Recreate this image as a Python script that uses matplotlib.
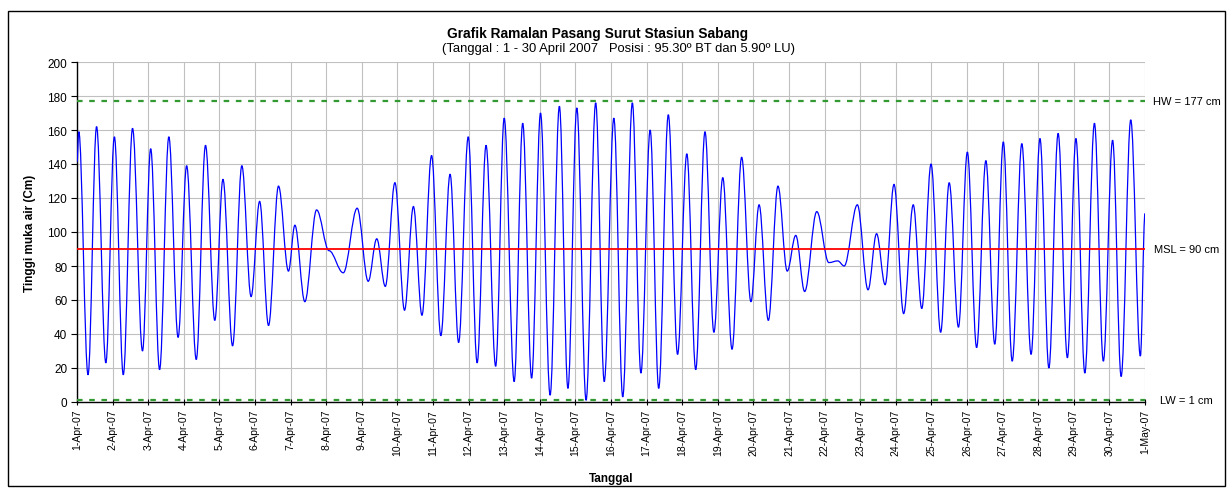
import matplotlib
matplotlib.use('Agg')
import matplotlib.pyplot as plt
from matplotlib.path import Path
from matplotlib.patches import PathPatch, Rectangle

plt.rcParams['font.family'] = ['Liberation Sans', 'DejaVu Sans']

# high / low waters: days after 1-Apr-07 00:00, height in cm
t_ext = [0.0, 0.05, 0.31, 0.55, 0.81, 1.05, 1.30, 1.56, 1.84, 2.07,
         2.32, 2.58, 2.84, 3.08, 3.35, 3.61, 3.87, 4.10, 4.37, 4.63,
         4.89, 5.13, 5.38, 5.66, 5.94, 6.12, 6.40, 6.73, 7.08, 7.48,
         7.87, 8.18, 8.42, 8.66, 8.93, 9.20, 9.45, 9.69, 9.96, 10.22,
         10.48, 10.72, 10.99, 11.24, 11.49, 11.76, 12.00, 12.28, 12.52, 12.77,
         13.02, 13.29, 13.55, 13.79, 14.04, 14.30, 14.57, 14.81, 15.08, 15.33,
         15.60, 15.84, 16.10, 16.34, 16.61, 16.87, 17.13, 17.38, 17.64, 17.89,
         18.14, 18.40, 18.67, 18.93, 19.16, 19.42, 19.69, 19.95, 20.19, 20.44,
         20.78, 21.12, 21.37, 21.55, 21.92, 22.22, 22.46, 22.70, 22.95, 23.22,
         23.49, 23.73, 23.99, 24.26, 24.50, 24.76, 25.01, 25.27, 25.53, 25.78,
         26.02, 26.27, 26.54, 26.80, 27.05, 27.30, 27.56, 27.82, 28.06, 28.31,
         28.58, 28.83, 29.09, 29.33, 29.60, 29.87, 30.0]
h_ext = [141, 159, 16, 162, 23, 156, 16, 161, 30, 149,
         19, 156, 38, 139, 25, 151, 48, 131, 33, 139,
         62, 118, 45, 127, 77, 104, 59, 113, 89, 76,
         114, 71, 96, 68, 129, 54, 115, 51, 145, 39,
         134, 35, 156, 23, 151, 21, 167, 12, 164, 14,
         170, 4, 174, 8, 173, 1, 176, 12, 167, 3,
         176, 17, 160, 8, 169, 28, 146, 19, 159, 41,
         132, 31, 144, 59, 116, 48, 127, 77, 98, 65,
         112, 82, 83, 80, 116, 66, 99, 69, 128, 52,
         116, 55, 140, 41, 129, 44, 147, 32, 142, 34,
         153, 24, 152, 28, 155, 20, 158, 26, 155, 17,
         164, 24, 154, 15, 166, 27, 111]

hw = 177
msl = 90
lw = 1
day_labels = ['%d-Apr-07' % d for d in range(1, 31)] + ['1-May-07']
y_ticks = [0, 20, 40, 60, 80, 100, 120, 140, 160, 180, 200]

fig = plt.figure(figsize=(12.31, 4.89), dpi=100)
ax = fig.add_axes([77/1231, 1-403/489, (1145-77)/1231, (403-63)/489])

# smooth line through the extrema (horizontal tangent at each turning point)
verts = [(t_ext[0], h_ext[0])]
codes = [Path.MOVETO]
k = 0.36
for i in range(1, len(t_ext)):
    t0, h0 = t_ext[i-1], h_ext[i-1]
    t1, h1 = t_ext[i], h_ext[i]
    dt = t1 - t0
    verts += [(t0 + k*dt, h0), (t1 - k*dt, h1), (t1, h1)]
    codes += [Path.CURVE4]*3
ax.add_patch(PathPatch(Path(verts, codes), facecolor='none', edgecolor='#0000ff', lw=0.9, zorder=3))

ax.axhline(msl, color='#ff0000', lw=1.3, zorder=4)
ax.axhline(hw, color='#339933', lw=1.6, ls=(0, (2.5, 3)), zorder=4)
ax.axhline(lw, color='#339933', lw=1.6, ls=(0, (2.5, 3)), zorder=4)

trans = ax.get_yaxis_transform()
ax.text(1.039, hw, 'HW = %d cm' % hw, transform=trans, fontsize=8, ha='center', va='center')
ax.text(1.039, msl, 'MSL = %d cm' % msl, transform=trans, fontsize=8, ha='center', va='center')
ax.text(1.039, lw, 'LW = %d cm' % lw, transform=trans, fontsize=8, ha='center', va='center')

ax.set_xlim(0, 30)
ax.set_ylim(0, 200)
ax.set_xticks(range(31))
ax.set_xticklabels(day_labels, rotation=90, fontsize=7.5)
ax.set_yticks(y_ticks)
ax.tick_params(axis='y', labelsize=8.5, length=4, pad=3)
ax.tick_params(axis='x', length=4, direction='inout', pad=3)
ax.grid(True, color='#c0c0c0', lw=0.8, zorder=0)
ax.set_axisbelow(True)
for s in ['top', 'right']:
    ax.spines[s].set_visible(False)
ax.spines['left'].set_linewidth(1)
ax.spines['bottom'].set_linewidth(1)

ax.set_ylabel('Tinggi muka air (Cm)', fontsize=8.5, fontweight='bold', labelpad=8)
ax.set_xlabel('Tanggal', fontsize=8.5, fontweight='bold', labelpad=12)

fig.text(598/1231, 1-34/489, 'Grafik Ramalan Pasang Surut Stasiun Sabang',
         ha='center', va='center', fontsize=9.9, fontweight='bold')
fig.text(619/1231, 1-49/489, '(Tanggal : 1 - 30 April 2007   Posisi : 95.30º BT dan 5.90º LU)',
         ha='center', va='center', fontsize=9.4)

fig.patches.append(Rectangle((8/1231, 1-487/489), 1217/1231, 475/489,
                             transform=fig.transFigure, fill=False, ec='black', lw=1))

fig.savefig('out.png', dpi=100)
